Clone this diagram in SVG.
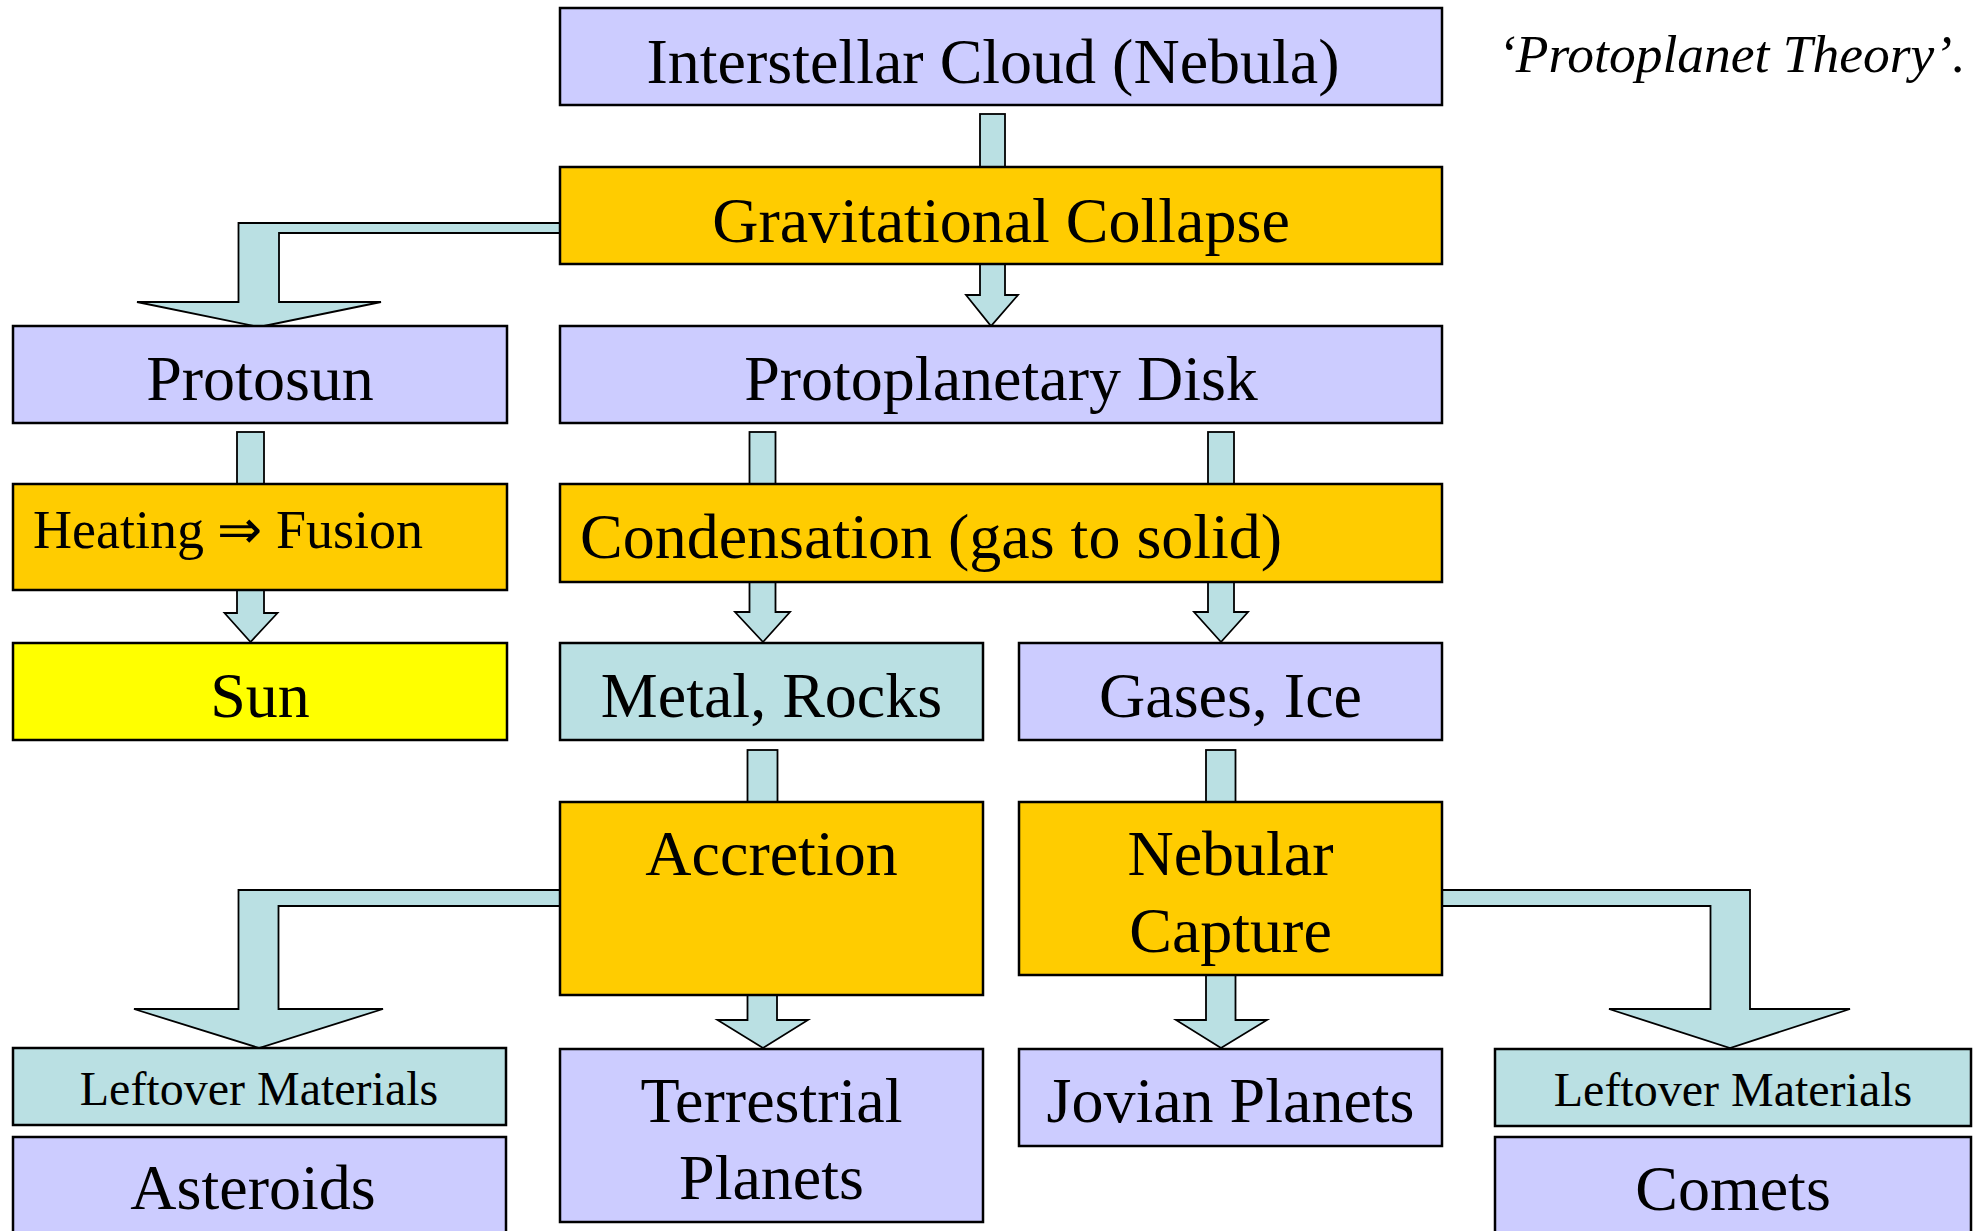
<svg xmlns="http://www.w3.org/2000/svg" width="1980" height="1231" viewBox="0 0 1980 1231">
  <style>
    .box { stroke: #000; stroke-width: 2.5; }
    .lav { fill: #CCCCFF; }
    .org { fill: #FFCC00; }
    .tea { fill: #BAE0E3; }
    .yel { fill: #FFFF00; }
    .arr { fill: #BAE0E3; stroke: #000; stroke-width: 1.8; stroke-linejoin: miter; }
    text { font-family: "Liberation Serif", "Times New Roman", serif; fill: #000; }
    .big { font-size: 64px; text-anchor: middle; }
    .mid { font-size: 54px; }
    .small { font-size: 48px; text-anchor: middle; }
    .title { font-size: 53.5px; font-style: italic; }
  </style>

  <!-- block arrows between the stages -->
  <g id="connectors">
    <rect class="arr" x="980" y="114" width="25" height="53"/>
    <polygon class="arr" points="560,223 238.5,223 238.5,302 137,302 259,327 381,302 279,302 279,233 560,233"/>
    <polygon class="arr" points="980,264 980,295 966,295 991,326 1018,295 1005,295 1005,264"/>
    <rect class="arr" x="237" y="432" width="27" height="52"/>
    <rect class="arr" x="749.5" y="432" width="26" height="52"/>
    <rect class="arr" x="1208" y="432" width="26" height="52"/>
    <polygon class="arr" points="237,590 237,613 224.5,613 250.5,642 277.5,613 264,613 264,590"/>
    <polygon class="arr" points="749.5,582 749.5,612 735,612 763,642 790,612 775.5,612 775.5,582"/>
    <polygon class="arr" points="1208,582 1208,612 1194,612 1221,642 1248,612 1234,612 1234,582"/>
    <rect class="arr" x="747.5" y="750" width="30" height="52"/>
    <rect class="arr" x="1206" y="750" width="29.5" height="52"/>
    <polygon class="arr" points="560,890 238.5,890 238.5,1009 134,1009 259,1048 383,1009 278.5,1009 278.5,906 560,906"/>
    <polygon class="arr" points="747.5,995 747.5,1020 717.5,1020 763,1048 808,1020 777,1020 777,995"/>
    <polygon class="arr" points="1206,975 1206,1020 1176,1020 1221,1048 1267,1020 1235.5,1020 1235.5,975"/>
    <polygon class="arr" points="1442,890 1750,890 1750,1009 1850,1009 1730,1048 1609,1009 1710.5,1009 1710.5,906 1442,906"/>
  </g>

  <g id="interstellar-cloud">
    <rect class="box lav" x="560" y="8" width="882" height="97"/>
    <text class="big" x="993" y="83">Interstellar Cloud (Nebula)</text>
  </g>

  <g id="theory-caption">
    <text class="title" x="1498" y="72">‘Protoplanet Theory’.</text>
  </g>

  <g id="gravitational-collapse">
    <rect class="box org" x="560" y="167" width="882" height="97"/>
    <text class="big" x="1001" y="242">Gravitational Collapse</text>
  </g>

  <g id="protosun">
    <rect class="box lav" x="13" y="326" width="494" height="97"/>
    <text class="big" x="260" y="400">Protosun</text>
  </g>

  <g id="protoplanetary-disk">
    <rect class="box lav" x="560" y="326" width="882" height="97"/>
    <text class="big" x="1001" y="400">Protoplanetary Disk</text>
  </g>

  <g id="heating-fusion">
    <rect class="box org" x="13" y="484" width="494" height="106"/>
    <text class="mid" x="33" y="548">Heating ⇒ Fusion</text>
  </g>

  <g id="condensation">
    <rect class="box org" x="560" y="484" width="882" height="98"/>
    <text style="font-size:64px" x="580" y="558">Condensation (gas to solid)</text>
  </g>

  <g id="sun">
    <rect class="box yel" x="13" y="643" width="494" height="97"/>
    <text class="big" x="260" y="717">Sun</text>
  </g>

  <g id="metal-rocks">
    <rect class="box tea" x="560" y="643" width="423" height="97"/>
    <text class="big" x="771.5" y="717">Metal, Rocks</text>
  </g>

  <g id="gases-ice">
    <rect class="box lav" x="1019" y="643" width="423" height="97"/>
    <text class="big" x="1230.5" y="717">Gases, Ice</text>
  </g>

  <g id="accretion">
    <rect class="box org" x="560" y="802" width="423" height="193"/>
    <text class="big" x="771.5" y="875">Accretion</text>
  </g>

  <g id="nebular-capture">
    <rect class="box org" x="1019" y="802" width="423" height="173"/>
    <text class="big" x="1230.5" y="875">Nebular</text>
    <text class="big" x="1230.5" y="952">Capture</text>
  </g>

  <g id="leftover-materials-left">
    <rect class="box tea" x="13" y="1048" width="493" height="77"/>
    <text class="small" x="259" y="1105">Leftover Materials</text>
  </g>

  <g id="asteroids">
    <rect class="box lav" x="13" y="1137" width="493" height="110"/>
    <text class="big" x="253" y="1209">Asteroids</text>
  </g>

  <g id="terrestrial-planets">
    <rect class="box lav" x="560" y="1049" width="423" height="173"/>
    <text class="big" x="771.5" y="1122">Terrestrial</text>
    <text class="big" x="771.5" y="1199">Planets</text>
  </g>

  <g id="jovian-planets">
    <rect class="box lav" x="1019" y="1049" width="423" height="97"/>
    <text class="big" x="1230.5" y="1122">Jovian Planets</text>
  </g>

  <g id="leftover-materials-right">
    <rect class="box tea" x="1495" y="1049" width="476" height="77"/>
    <text class="small" x="1733" y="1106">Leftover Materials</text>
  </g>

  <g id="comets">
    <rect class="box lav" x="1495" y="1137" width="476" height="110"/>
    <text class="big" x="1733" y="1210">Comets</text>
  </g>
</svg>
